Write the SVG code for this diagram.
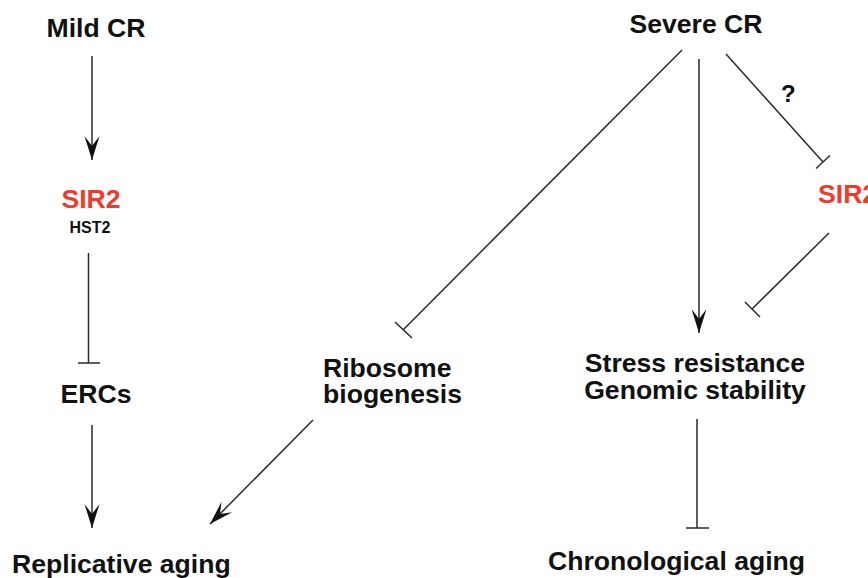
<svg xmlns="http://www.w3.org/2000/svg" width="868" height="578" viewBox="0 0 868 578">
<style>
.t{font-family:"Liberation Sans",Arial,sans-serif;font-weight:bold;font-size:26.6px;fill:#111}
.r{fill:#f23a2a}
.s{font-size:16px}
.q{font-size:24px}
.ln{stroke:#2a2a2a;stroke-width:1.5;fill:none}
.ar{marker-end:url(#arr)}
</style>
<defs>
<marker id="arr" markerUnits="userSpaceOnUse" viewBox="-25 -8 26 16" refX="0" refY="0" markerWidth="26" markerHeight="16" orient="auto">
<path d="M0,0 L-24,-7.5 L-14,0 L-24,7.5 Z" fill="#111"/>
</marker>
</defs>
<rect width="868" height="578" fill="#fff"/>
<g id="mildcr"><text class="t" x="96" y="37" text-anchor="middle">Mild CR</text></g>
<g id="sir2-left"><text class="t r" x="91" y="208" text-anchor="middle">SIR2</text><text class="t s" x="90" y="233" text-anchor="middle">HST2</text></g>
<g id="ercs"><text class="t" x="96" y="403" text-anchor="middle">ERCs</text></g>
<g id="replicative"><text class="t" x="12" y="573">Replicative aging</text></g>
<g id="ribosome"><text class="t" x="323" y="377">Ribosome</text><text class="t" x="323" y="403">biogenesis</text></g>
<g id="severecr"><text class="t" x="696" y="33" text-anchor="middle">Severe CR</text></g>
<g id="sir2-right"><text class="t r" x="818" y="203">SIR2</text></g>
<g id="stress"><text class="t" x="695" y="372" text-anchor="middle">Stress resistance</text><text class="t" x="695" y="399" text-anchor="middle">Genomic stability</text></g>
<g id="chrono"><text class="t" x="548" y="570">Chronological aging</text></g>
<g id="connectors">
<line class="ln ar" x1="92" y1="56" x2="92" y2="160"/>
<line class="ln" x1="88.5" y1="253" x2="88.5" y2="363"/>
<line class="ln" x1="78" y1="363" x2="100" y2="363"/>
<line class="ln ar" x1="92" y1="425" x2="92" y2="528"/>
<line class="ln ar" x1="313" y1="420" x2="210" y2="524"/>
<line class="ln" x1="682" y1="50" x2="403" y2="330"/>
<line class="ln" x1="395" y1="322" x2="412" y2="338"/>
<line class="ln ar" x1="699" y1="59" x2="699" y2="333"/>
<line class="ln" x1="726" y1="54" x2="823" y2="162"/>
<line class="ln" x1="816" y1="168.5" x2="830" y2="155.5"/>
<text class="t q" x="781" y="102">?</text>
<line class="ln" x1="829" y1="233" x2="752" y2="309"/>
<line class="ln" x1="745" y1="302" x2="760" y2="317"/>
<line class="ln" x1="697" y1="419" x2="697" y2="528"/>
<line class="ln" x1="686" y1="528" x2="709" y2="528"/>
</g>
</svg>
